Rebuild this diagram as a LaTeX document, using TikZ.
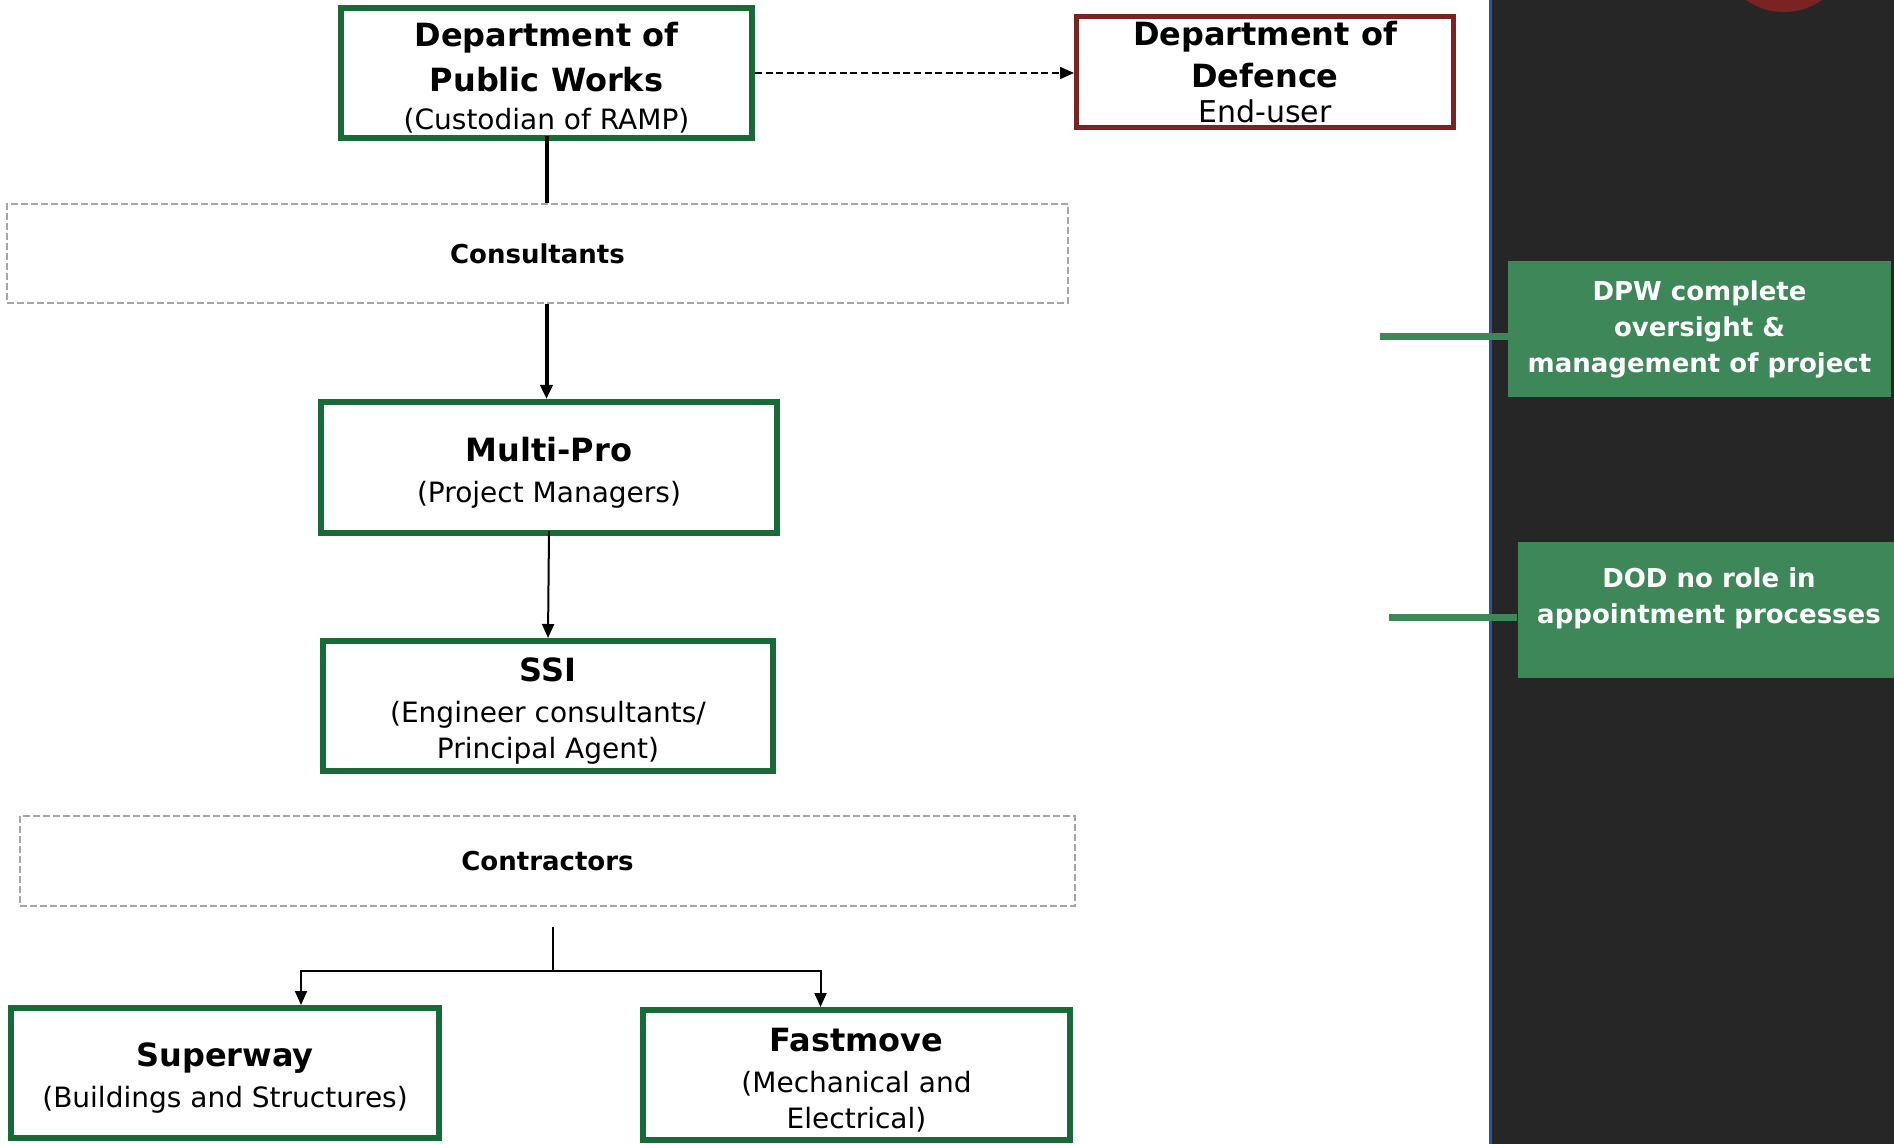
\documentclass[tikz,border=0pt]{standalone}
\usepackage{fontspec}
\setmainfont{DejaVu Sans}
\usetikzlibrary{arrows.meta}
\definecolor{boxgreen}{HTML}{186B36}
\definecolor{dodred}{HTML}{7B2222}
\definecolor{notegreen}{HTML}{3E8758}
\definecolor{panel}{HTML}{262626}
\definecolor{panelblue}{HTML}{2F5597}
\definecolor{groupgray}{HTML}{A6A6A6}
\newcommand{\ttl}[1]{{\fontsize{16}{17}\selectfont\bfseries #1}}
\newcommand{\lift}{\rule{0pt}{17pt}}
\tikzset{
    orgbox/.style={draw=boxgreen, line width=3pt, fill=white, inner sep=0pt,
        align=center, font=\fontsize{14}{17}\selectfont},
    enduserbox/.style={orgbox, draw=dodred, line width=2.5pt},
    groupbox/.style={draw=groupgray, line width=1pt, dash pattern=on 3.5pt off 1.5pt,
        inner sep=0pt, font=\fontsize{13}{16}\selectfont\bfseries},
    notebox/.style={fill=notegreen, text=white, inner sep=0pt, align=center,
        minimum width=191.5pt, minimum height=68pt, font=\fontsize{13}{18}\selectfont\bfseries},
    noteline/.style={draw=notegreen, line width=3.5pt},
    link/.style={line width=1pt, -{Triangle[length=7pt,width=6pt]}},
}

\begin{document}
\begin{tikzpicture}[x=0.5pt, y=-0.5pt]
    \useasboundingbox (0,0) rectangle (1894,1144);
    \clip (0,0) rectangle (1894,1144);

    \fill[panel] (1491,0) rectangle (1894,1144);
    \fill[dodred] (1784,-54) circle[radius=33pt];

    \node[orgbox, minimum width=205.5pt, minimum height=65pt] (dpw) at (546.5,73)
        {\lift\ttl{Department of}\\[5.5pt]\ttl{Public Works}\\[2pt](Custodian of RAMP)};
    \node[enduserbox, minimum width=188.5pt, minimum height=55.5pt] (dod) at (1265,72)
        {\ttl{Department of}\\[4pt]\ttl{Defence}\\[0.5pt]{\fontsize{15}{17}\selectfont End-user}};

    \node[groupbox, minimum width=530.5pt, minimum height=49.5pt] (cons) at (537.5,253.5) {Consultants};

    \node[orgbox, minimum width=228pt, minimum height=65.5pt] (mp) at (549,467.5)
        {\lift\ttl{Multi-Pro}\\[3.5pt](Project Managers)};
    \node[orgbox, minimum width=225pt, minimum height=65pt] (ssi) at (548,706)
        {\lift\ttl{SSI}\\[3.5pt](Engineer consultants/\\[1pt]Principal Agent)};

    \node[groupbox, minimum width=527.5pt, minimum height=45pt] (contr) at (547.5,861) {Contractors};

    \node[orgbox, minimum width=214pt, minimum height=65pt] (sw) at (225,1073)
        {\lift\ttl{Superway}\\[3.5pt](Buildings and Structures)};
    \node[orgbox, minimum width=213.5pt, minimum height=65pt] (fm) at (856.5,1075)
        {\lift\ttl{Fastmove}\\[3.5pt](Mechanical and\\[1pt]Electrical)};

    \draw[link, dash pattern=on 3.5pt off 1.8pt] (dpw.east) -- (dpw.east -| dod.west);
    \draw[line width=2pt] ([yshift=2.5pt]dpw.south) -- (dpw.south |- cons.north);
    \draw[link, line width=2pt] (dpw.south |- cons.south) -- (dpw.south |- mp.north);
    \draw[link] ([yshift=2.5pt]mp.south) -- (ssi.north);

    \coordinate (stem) at (553,927);
    \coordinate (fork) at (553,971);
    \draw[line width=1pt] (stem) -- (fork);
    \draw[link] (fork) -| ([xshift=38pt]sw.north);
    \draw[link] (fork) -| ([xshift=-18pt]fm.north);

    \node[notebox] (dpwnote) at (1699.5,329) {DPW complete\\oversight \&\\management of project};
    \node[notebox] (dodnote) at (1709,610) {DOD no role in\\appointment processes\\[-3.5pt]};

    \draw[panelblue, line width=1.5pt] (1490,0) -- (1490,1144);
    \coordinate (n1) at (1380,337);
    \coordinate (n2) at (1389,617);
    \draw[noteline] (n1) -- (n1 -| dpwnote.west);
    \draw[noteline] (n2) -- (n2 -| dodnote.west);
\end{tikzpicture}
\end{document}
